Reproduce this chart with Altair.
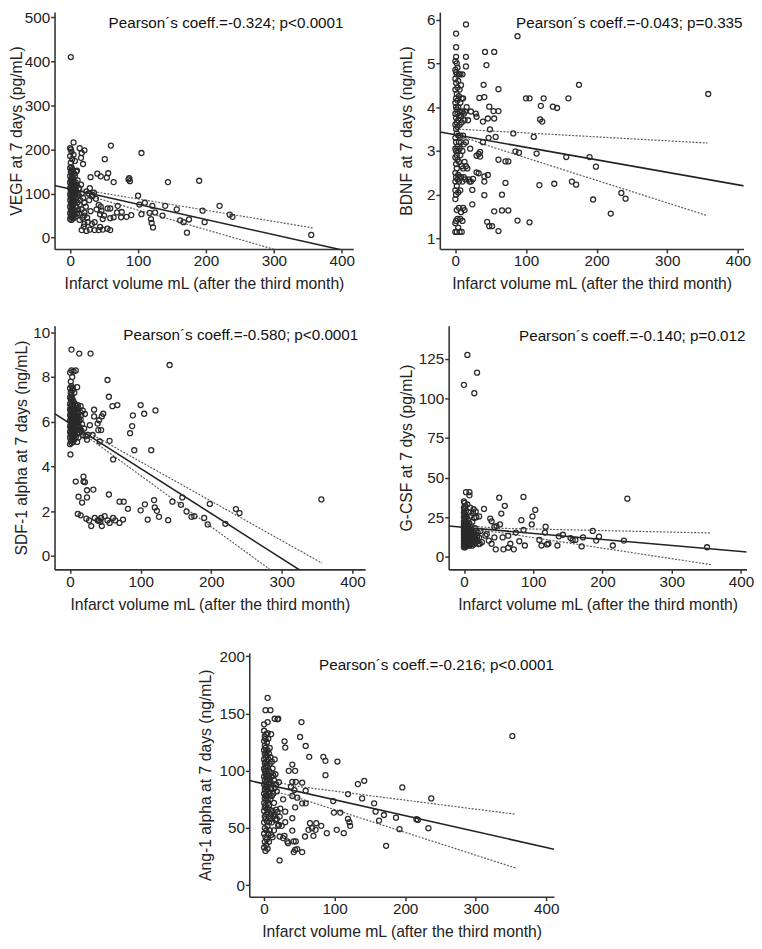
import altair as alt
import pandas as pd

FONT = "Liberation Sans"
X_TITLE = "Infarct volume mL (after the third month)"
x_ticks = [0, 100, 200, 300, 400]

# ---------------- VEGF ----------------
vegf_pts = [
    (1, 410), (60, 209), (105, 192), (51, 178), (144, 126), (190, 129), (87, 135), (88, 128), (86, 132),
    (30, 137), (40, 145), (45, 139), (56, 146), (54, 136), (64, 126), (100, 95), (102, 75), (110, 79),
    (121, 72), (140, 72), (157, 64), (167, 35), (172, 11), (175, 41), (162, 39), (195, 61), (198, 35),
    (220, 72), (235, 52), (239, 47), (355, 6), (136, 50), (117, 56), (119, 42), (120, 33), (122, 23),
    (125, 57), (105, 53), (70, 72), (69, 57), (76, 58), (75, 46), (83, 47), (90, 51), (64, 46), (59, 44),
    (55, 66), (59, 66), (42, 74), (45, 70), (46, 61), (44, 53), (48, 42), (50, 50), (44, 24), (42, 17),
    (55, 20), (59, 17), (48, 18), (36, 17), (29, 18), (32, 31), (26, 35), (21, 31), (24, 15), (17, 17),
    (33, 97), (29, 112), (32, 94), (19, 90), (21, 79), (21, 57), (17, 64), (21, 50), (24, 105), (27, 100),
    (35, 102), (38, 88), (30, 60), (25, 45), (14, 40), (20, 25), (13, 55), (23, 70), (36, 35), (39, 64), (28, 85),
    (0, 42), (0, 55), (0, 70), (0, 85), (0, 98), (0, 112), (0, 125), (0, 140), (0, 158), (0, 185), (0, 203),
    (1, 48), (1, 62), (1, 78), (1, 92), (1, 105), (1, 118), (1, 132), (1, 150), (1, 170), (1, 200),
    (2, 40), (2, 58), (2, 72), (2, 88), (2, 100), (2, 115), (2, 128), (2, 145), (2, 160), (2, 195),
    (3, 45), (3, 65), (3, 80), (3, 95), (3, 108), (3, 122), (3, 138), (3, 155), (3, 178),
    (4, 50), (4, 68), (4, 84), (4, 102), (4, 118), (4, 135), (4, 152),
    (5, 44), (5, 75), (5, 90), (5, 110), (5, 128), (5, 188), (5, 216),
    (6, 52), (6, 82), (6, 100), (6, 120), (6, 145),
    (7, 60), (7, 95), (7, 115), (7, 140), (7, 174),
    (8, 48), (8, 88), (8, 108), (8, 125),
    (9, 70), (9, 105), (9, 150),
    (10, 55), (10, 92), (10, 118), (10, 152),
    (11, 80), (11, 130), (12, 62), (12, 98), (13, 112), (14, 75), (14, 203), (15, 85), (16, 120),
    (16, 181), (17, 100), (17, 192), (18, 45), (19, 167), (21, 198),
]
vegf_reg_x = [-23, 417]
vegf_reg_y = [118, -34]
vegf_up_x = [0, 40, 357]
vegf_up_y = [116, 103, 22]
vegf_lo_x = [0, 40, 357]
vegf_lo_y = [104, 89, -52]

# ---------------- BDNF ----------------
bdnf_pts = [
    (15, 5.89), (1, 5.68), (88, 5.62), (1, 5.37), (42, 5.26), (55, 5.26), (15, 5.15), (44, 4.96), (15, 4.93),
    (175, 4.51), (40, 4.51), (61, 4.41), (358, 4.30), (100, 4.20), (105, 4.20), (125, 4.20), (160, 4.20),
    (41, 4.23), (34, 4.21), (121, 4.03), (138, 4.01), (144, 3.98), (48, 4.01), (120, 3.72), (123, 3.67),
    (54, 3.91), (61, 3.91), (55, 3.74), (46, 3.74), (29, 3.85), (30, 3.78), (39, 3.67), (39, 3.20),
    (82, 3.40), (111, 3.32), (49, 3.49), (47, 3.30), (57, 3.32), (85, 2.99), (90, 2.96), (115, 2.94),
    (35, 2.98), (33, 2.93), (30, 2.89), (35, 2.87), (61, 2.80), (71, 2.76), (75, 2.76), (157, 2.86),
    (190, 2.86), (199, 2.64), (119, 2.22), (140, 2.25), (165, 2.30), (171, 2.23), (235, 2.04), (241, 1.91),
    (195, 1.89), (220, 1.57), (41, 2.42), (46, 2.45), (41, 2.30), (41, 1.99), (71, 2.27), (66, 2.00),
    (24, 2.11), (24, 1.78), (55, 1.62), (66, 1.64), (75, 1.64), (45, 1.38), (48, 1.28), (52, 1.28),
    (61, 1.17), (88, 1.41), (105, 1.37), (25, 2.36), (30, 2.51), (33, 2.49),
    (0, 1.15), (0, 1.35), (0, 1.9), (0, 2.1), (0, 2.3), (0, 2.5), (0, 2.85), (0, 3.05), (0, 3.3), (0, 3.6),
    (0, 3.85), (0, 4.1), (0, 4.4), (0, 4.65), (0, 4.85), (0, 5.05),
    (1, 1.4), (1, 2.0), (1, 2.4), (1, 2.7), (1, 3.0), (1, 3.2), (1, 3.5), (1, 3.75), (1, 4.0), (1, 4.2),
    (1, 4.55), (1, 4.8), (1, 5.15),
    (2, 1.15), (2, 1.65), (2, 2.2), (2, 2.6), (2, 2.9), (2, 3.4), (2, 3.65), (2, 3.95), (2, 4.3), (2, 4.75), (2, 5.0),
    (3, 1.45), (3, 2.35), (3, 2.8), (3, 3.1), (3, 3.55), (3, 3.85), (3, 4.15), (3, 4.45), (3, 4.9),
    (4, 1.25), (4, 2.05), (4, 2.45), (4, 3.0), (4, 3.35), (4, 3.7), (4, 4.0), (4, 4.6),
    (5, 1.7), (5, 2.3), (5, 2.75), (5, 3.2), (5, 3.8), (5, 4.25), (5, 4.75),
    (6, 1.15), (6, 2.4), (6, 3.05), (6, 3.6), (6, 3.9), (6, 4.4),
    (7, 1.45), (7, 2.1), (7, 2.9), (7, 3.35), (7, 4.1), (7, 4.75),
    (8, 1.6), (8, 2.4), (8, 3.2), (8, 3.8), (8, 4.5),
    (9, 1.15), (9, 2.65), (9, 3.65), (9, 4.2),
    (10, 1.4), (10, 2.3), (10, 3.0), (10, 3.9), (10, 4.75),
    (11, 1.7), (11, 2.6), (11, 3.35), (11, 4.2),
    (12, 2.4), (12, 3.15), (12, 3.85), (13, 1.65), (13, 2.75), (13, 3.7), (14, 2.35), (14, 3.9),
    (15, 2.65), (15, 3.2), (16, 4.0), (17, 2.6), (18, 3.7), (19, 2.35), (20, 2.3), (21, 3.05), (22, 3.9), (22, 2.3),
]
bdnf_reg_x = [-22, 420]
bdnf_reg_y = [3.43, 2.17]
bdnf_up_x = [0, 357]
bdnf_up_y = [3.50, 3.18]
bdnf_lo_x = [0, 50, 357]
bdnf_lo_y = [3.38, 3.10, 1.52]

# ---------------- SDF-1 alpha ----------------
sdf_pts = [
    (2, 9.23), (13, 9.05), (29, 9.05), (141, 8.54), (53, 7.87), (55, 7.12), (60, 6.70), (67, 6.75),
    (100, 6.75), (105, 6.36), (121, 6.51), (89, 6.29), (88, 5.81), (85, 5.49), (91, 4.73), (115, 4.73),
    (61, 4.32), (56, 5.15), (34, 6.54), (34, 6.24), (47, 6.36), (45, 6.24), (41, 6.07), (40, 5.63),
    (44, 5.63), (32, 5.41), (25, 5.41), (24, 5.20), (42, 5.12), (39, 5.92), (28, 5.85), (0.5, 4.54),
    (8, 3.33), (19, 3.55), (19, 3.33), (21, 3.30), (24, 2.94), (33, 2.97), (12, 2.65), (24, 2.62),
    (17, 2.39), (55, 2.75), (70, 2.43), (76, 2.43), (82, 2.11), (100, 2.04), (106, 2.31), (119, 2.50),
    (120, 2.17), (123, 2.02), (126, 1.75), (139, 1.60), (145, 2.43), (157, 2.29), (159, 2.62),
    (165, 1.99), (172, 1.75), (176, 1.78), (190, 1.70), (198, 2.33), (195, 1.41), (220, 1.44),
    (235, 2.10), (240, 1.92), (356, 2.53), (110, 1.63), (11, 1.88), (15, 1.82), (23, 1.67), (27, 1.59),
    (30, 1.34), (35, 1.70), (39, 1.59), (43, 1.53), (45, 1.34), (49, 1.78), (53, 1.59), (56, 1.48),
    (61, 1.70), (64, 1.59), (70, 1.48), (75, 1.63), (41, 1.59), (44, 1.70),
    (0, 5.0), (0, 5.3), (0, 5.55), (0, 5.8), (0, 6.05), (0, 6.3), (0, 6.55), (0, 6.8), (0, 7.1), (0, 7.5), (0, 8.2),
    (1, 5.15), (1, 5.45), (1, 5.7), (1, 5.95), (1, 6.2), (1, 6.45), (1, 6.7), (1, 7.0), (1, 7.3), (1, 7.8),
    (2, 5.05), (2, 5.35), (2, 5.6), (2, 5.85), (2, 6.1), (2, 6.35), (2, 6.6), (2, 6.9), (2, 7.2), (2, 7.6), (2, 8.3),
    (3, 5.25), (3, 5.5), (3, 5.75), (3, 6.0), (3, 6.25), (3, 6.5), (3, 6.75), (3, 7.05), (3, 7.4), (3, 8.0),
    (4, 5.1), (4, 5.4), (4, 5.65), (4, 5.9), (4, 6.15), (4, 6.4), (4, 6.65), (4, 6.95), (4, 7.5),
    (5, 5.3), (5, 5.6), (5, 5.85), (5, 6.1), (5, 6.35), (5, 6.6), (5, 6.9), (5, 8.25),
    (6, 5.2), (6, 5.5), (6, 5.8), (6, 6.05), (6, 6.3), (6, 6.6), (6, 7.3),
    (7, 5.45), (7, 5.75), (7, 6.0), (7, 6.25), (7, 6.55), (7, 6.8),
    (8, 5.3), (8, 5.65), (8, 5.95), (8, 6.2), (8, 6.5), (8, 8.3),
    (9, 5.6), (9, 5.9), (9, 6.2), (9, 6.7),
    (10, 5.1), (10, 5.45), (10, 5.8), (10, 6.1), (10, 6.45), (10, 7.55),
    (11, 5.65), (11, 6.0), (11, 6.35), (11, 6.75), (12, 5.3), (12, 5.85), (12, 6.2), (12, 6.6),
    (13, 5.5), (13, 6.05), (14, 5.75), (14, 6.45), (15, 6.1), (15, 6.7), (16, 5.6), (16, 6.3),
    (17, 5.9), (18, 5.4), (18, 6.5), (20, 5.7), (21, 6.35), (22, 5.35),
]
sdf_reg_x = [-22, 330]
sdf_reg_y = [6.37, -0.72]
sdf_up_x = [0, 30, 357]
sdf_up_y = [6.05, 5.45, -0.32]
sdf_lo_x = [0, 30, 290]
sdf_lo_y = [5.80, 5.20, -0.76]

# ---------------- G-CSF ----------------
gcsf_pts = [
    (5, 127.5), (0, 108.6), (19, 116.3), (15, 103.3), (3, 40.8), (8, 40.8), (8, 38.8), (51, 37.3),
    (86, 37.8), (236, 36.7), (29, 30.2), (59, 32.2), (103, 29.6), (54, 27.3), (99, 25.5), (38, 24.1),
    (40, 22.4), (83, 23.1), (98, 20.4), (52, 20.4), (47, 19.4), (44, 18.8), (118, 19.0), (117, 15.3),
    (86, 16.9), (186, 16.3), (75, 15.3), (64, 13.3), (56, 12.2), (44, 12.2), (143, 13.9), (137, 12.9),
    (154, 11.8), (157, 10.6), (161, 10.6), (172, 12.2), (195, 12.7), (191, 10.2), (231, 10.2),
    (215, 7.1), (170, 6.5), (135, 7.1), (109, 10.6), (112, 7.1), (120, 7.8), (122, 8.2), (88, 7.1),
    (80, 9.8), (67, 8.2), (64, 5.7), (57, 4.7), (72, 4.7), (46, 4.7), (351, 6.0),
    (31, 13.3), (23, 8.2), (40, 8.2), (36, 10.2), (26, 9.2), (20, 15.3), (24, 16.3), (33, 14.3),
    (15, 24.5), (13, 27.6), (17, 28.6), (22, 25.5),
    (0, 6), (0, 8), (0, 10), (0, 12), (0, 14), (0, 16), (0, 18), (0, 20), (0, 22), (0, 25), (0, 28), (0, 31), (0, 35),
    (1, 7), (1, 9), (1, 11), (1, 13), (1, 15), (1, 17), (1, 19), (1, 21), (1, 24), (1, 27), (1, 30), (1, 34),
    (2, 6), (2, 8), (2, 10), (2, 12), (2, 14), (2, 16), (2, 18), (2, 20), (2, 23), (2, 26), (2, 32),
    (3, 7), (3, 9), (3, 11), (3, 13), (3, 15), (3, 17), (3, 19), (3, 22), (3, 29),
    (4, 8), (4, 10), (4, 12), (4, 14), (4, 16), (4, 18), (4, 21), (4, 25),
    (5, 7), (5, 9), (5, 11), (5, 13), (5, 15), (5, 17), (5, 20), (5, 33),
    (6, 8), (6, 10), (6, 12), (6, 14), (6, 16), (6, 19), (6, 23),
    (7, 9), (7, 11), (7, 13), (7, 15), (7, 18), (7, 28),
    (8, 7), (8, 10), (8, 12), (8, 14), (8, 17), (8, 21),
    (9, 9), (9, 11), (9, 13), (9, 16), (9, 31),
    (10, 8), (10, 12), (10, 15), (10, 19), (10, 26),
    (11, 10), (11, 13), (11, 17), (12, 7), (12, 11), (12, 14), (12, 22),
    (13, 9), (13, 12), (13, 16), (14, 10), (14, 13), (14, 30), (15, 8), (15, 11), (15, 15),
    (16, 12), (16, 18), (17, 9), (17, 14), (18, 11), (18, 25), (19, 13), (20, 10), (21, 8), (22, 12),
]
gcsf_reg_x = [-22, 420]
gcsf_reg_y = [19.4, 2.6]
gcsf_up_x = [0, 50, 357]
gcsf_up_y = [19.8, 18.0, 15.0]
gcsf_lo_x = [0, 50, 357]
gcsf_lo_y = [17.5, 15.4, -5.0]

# ---------------- Ang-1 alpha ----------------
ang_pts = [
    (5, 163.8), (2, 153), (9, 153), (15, 145.5), (20, 145.5), (0, 140.6), (5, 142.6), (53, 142.6),
    (51, 129.6), (59, 121.7), (29, 125.8), (30, 120.3), (64, 112.2), (84, 112.2), (87, 108.7),
    (104, 108.1), (40, 105.5), (35, 100), (44, 100), (87, 96.2), (352, 130.4), (142, 91.3), (133, 88.4),
    (196, 85.5), (237, 75.9), (139, 75.9), (156, 71.6), (158, 64.3), (170, 61.4), (163, 56.5),
    (187, 59.1), (216, 57.7), (218, 57.1), (233, 49.9), (192, 49), (173, 34.5), (119, 79.7), (119, 58),
    (121, 55.1), (122, 51.9), (113, 45.5), (99, 63.5), (108, 63.5), (103, 48.4), (98, 73.6),
    (40, 90.4), (45, 90.4), (54, 89.6), (59, 82.6), (38, 86.1), (43, 83.2), (40, 78), (47, 76.5),
    (44, 68.1), (54, 71.6), (59, 71.6), (40, 58.6), (30, 64.3), (30, 55.1), (27, 75.1), (63, 48.4),
    (65, 54.2), (68, 49.9), (70, 43.2), (73, 48.4), (74, 54.2), (81, 51.9), (89, 45.5), (21, 52.8),
    (25, 51.9), (22, 21.7), (40, 47.8), (22, 42.6), (27, 41.2), (29, 43.2), (33, 38.3), (34, 36.8),
    (42, 38.3), (45, 38.3), (44, 31), (47, 31.6), (42, 29), (54, 29), (58, 42.6),
    (0, 33), (0, 45), (0, 55), (0, 65), (0, 72), (0, 80), (0, 88), (0, 95), (0, 102), (0, 110), (0, 118), (0, 126), (0, 135),
    (1, 38), (1, 50), (1, 60), (1, 68), (1, 76), (1, 84), (1, 92), (1, 100), (1, 107), (1, 115), (1, 122), (1, 130),
    (2, 30), (2, 42), (2, 58), (2, 70), (2, 78), (2, 86), (2, 97), (2, 104), (2, 112), (2, 120), (2, 128),
    (3, 35), (3, 48), (3, 62), (3, 74), (3, 82), (3, 90), (3, 100), (3, 108), (3, 116), (3, 132),
    (4, 40), (4, 56), (4, 67), (4, 78), (4, 86), (4, 95), (4, 105), (4, 113), (4, 125),
    (5, 32), (5, 52), (5, 64), (5, 75), (5, 84), (5, 92), (5, 103), (5, 118), (5, 133),
    (6, 45), (6, 60), (6, 72), (6, 82), (6, 96), (6, 110), (6, 128),
    (7, 38), (7, 55), (7, 70), (7, 88), (7, 100), (7, 115),
    (8, 48), (8, 66), (8, 80), (8, 93), (8, 106), (8, 120),
    (9, 58), (9, 75), (9, 90), (9, 112), (10, 44), (10, 62), (10, 85), (10, 98), (10, 132),
    (11, 55), (11, 78), (11, 95), (11, 108), (12, 42), (12, 65), (12, 88), (12, 102),
    (13, 60), (13, 80), (13, 96), (14, 48), (14, 72), (14, 92), (15, 62), (15, 85), (15, 110),
    (16, 57), (16, 97), (17, 66), (17, 88), (18, 58), (18, 82), (19, 64), (19, 145), (20, 52),
    (21, 90), (22, 60), (23, 67),
]
ang_reg_x = [-21, 411]
ang_reg_y = [91.5, 31.5]
ang_up_x = [0, 40, 357]
ang_up_y = [93, 87, 62]
ang_lo_x = [0, 40, 357]
ang_lo_y = [84, 78, 15]


def panel(pts, reg_x, reg_y, up_x, up_y, lo_x, lo_y, xdom, ydom, yticks, ytitle, note,
          w, h, ytitle_pad, note_x, note_y):
    xs = alt.Scale(domain=xdom, nice=False, zero=False)
    ys = alt.Scale(domain=ydom, nice=False, zero=False)
    X = alt.X("x:Q", scale=xs, axis=alt.Axis(values=x_ticks, title=X_TITLE))
    Y = alt.Y("y:Q", scale=ys, axis=alt.Axis(values=yticks, title=ytitle, titlePadding=ytitle_pad))

    df = pd.DataFrame(pts, columns=["x", "y"])
    ci = pd.DataFrame(
        {"x": up_x + lo_x, "y": up_y + lo_y, "g": ["up"] * len(up_x) + ["lo"] * len(lo_x)}
    )
    reg = pd.DataFrame({"x": reg_x, "y": reg_y})

    ci_layer = alt.Chart(ci).mark_line(
        clip=True, color="#5a5a5a", strokeWidth=1.2, strokeDash=[2, 1.5]
    ).encode(X, Y, detail="g:N")
    reg_layer = alt.Chart(reg).mark_line(clip=True, color="#222222", strokeWidth=1.6).encode(X, Y)
    pt_layer = alt.Chart(df).mark_point(
        shape="circle", filled=False, size=26, color="#2a2a2a", strokeWidth=1.3, opacity=1
    ).encode(X, Y)
    txt = alt.Chart(pd.DataFrame({"t": [note]})).mark_text(
        align="right", baseline="middle", font=FONT, fontSize=15.5, color="#111111"
    ).encode(text="t:N", x=alt.value(note_x), y=alt.value(note_y))
    return alt.layer(ci_layer, reg_layer, pt_layer, txt).properties(width=w, height=h)


p1 = panel(vegf_pts, vegf_reg_x, vegf_reg_y, vegf_up_x, vegf_up_y, vegf_lo_x, vegf_lo_y,
           [-23, 417], [-26, 512], [0, 100, 200, 300, 400, 500], "VEGF at 7 days (pg/mL)",
           "Pearson´s coeff.=-0.324; p<0.0001", 304, 241, 0, 294, 11)
p2 = panel(bdnf_pts, bdnf_reg_x, bdnf_reg_y, bdnf_up_x, bdnf_up_y, bdnf_lo_x, bdnf_lo_y,
           [-22, 408], [0.76, 6.17], [1, 2, 3, 4, 5, 6], "BDNF at 7 days (ng/mL)",
           "Pearson´s coeff.=-0.043; p=0.335", 309, 241, 12, 308, 11)
p3 = panel(sdf_pts, sdf_reg_x, sdf_reg_y, sdf_up_x, sdf_up_y, sdf_lo_x, sdf_lo_y,
           [-22, 418], [-0.6, 10.3], [0, 2, 4, 6, 8, 10], "SDF-1 alpha at 7 days (ng/mL)",
           "Pearson´s coeff.=-0.580; p<0.0001", 316, 248, 3, 309, 10)
p4 = panel(gcsf_pts, gcsf_reg_x, gcsf_reg_y, gcsf_up_x, gcsf_up_y, gcsf_lo_x, gcsf_lo_y,
           [-22, 408], [-8, 146], [0, 25, 50, 75, 100, 125], "G-CSF at 7 dys (pg/mL)",
           "Pearson´s coeff.=-0.140; p=0.012", 303, 248, 4, 302, 11)
p5 = panel(ang_pts, ang_reg_x, ang_reg_y, ang_up_x, ang_up_y, ang_lo_x, ang_lo_y,
           [-21, 411], [-10, 203], [0, 50, 100, 150, 200], "Ang-1 alpha at 7 days (ng/mL)",
           "Pearson´s coeff.=-0.216; p<0.0001", 310, 248, 6, 310, 12)

row1 = alt.hconcat(p1, p2, spacing=44)
row2 = alt.hconcat(p3, p4, spacing=33)
top = alt.vconcat(row1, row2, spacing=33)

chart = alt.vconcat(top, p5, spacing=37, center=True).configure_view(
    stroke=None
).configure_axis(
    grid=False,
    labelFont=FONT,
    labelFontSize=15.5,
    labelColor="#222222",
    titleFont=FONT,
    titleFontSize=16,
    titleFontWeight="normal",
    titleColor="#222222",
    domainColor="#333333",
    domainWidth=1.6,
    tickColor="#333333",
    tickWidth=1.5,
    tickSize=4,
    labelPadding=1,
).configure_axisX(
    labelPadding=1,
    titlePadding=7,
).properties(padding={"top": -6, "left": 0, "right": 0, "bottom": 0}, background="white")

chart.save("out.html", embed_options={"renderer": "svg", "actions": False})
